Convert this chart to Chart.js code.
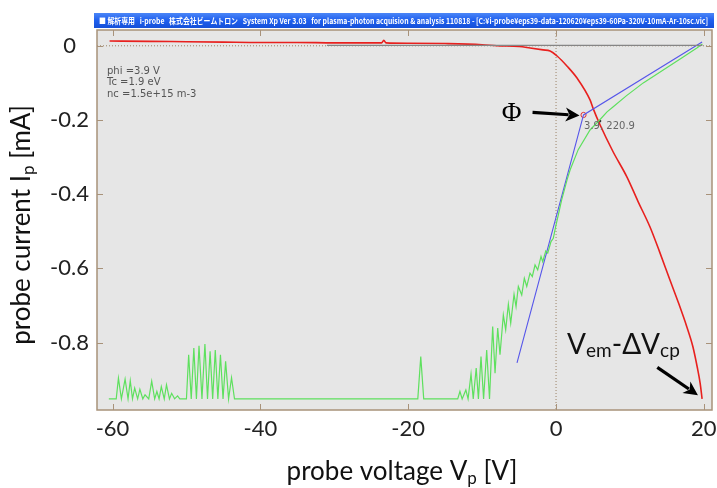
<!DOCTYPE html>
<html>
<head>
<meta charset="utf-8">
<script src="https://cdn.jsdelivr.net/npm/chart.js@4.4.1/dist/chart.umd.min.js"></script>
<style>
  html, body { margin: 0; padding: 0; background: #fff; }
  #wrap { width: 717px; height: 488px; }
</style>
</head>
<body>
<div id="wrap"><canvas id="ivChart" width="717" height="488"></canvas></div>
<script>
// probe voltage [V] / probe current [mA]
const redV = [-60.4, -55, -50, -45, -40, -35, -30, -25, -23.6, -23.3, -23.0, -20, -15, -10, -8, -5, -3.5, -1.75, -0.81, 0.14,
              1.5, 2.84, 4.6, 5.0, 5.95, 7.7, 9.6, 11.1, 12.7, 14.0, 15.4, 16.6, 17.7, 18.5, 19.1, 19.5, 19.76];
const redI = [0.013, 0.012, 0.011, 0.010, 0.009, 0.009, 0.008, 0.008, 0.008, 0.015, 0.008, 0.007, 0.006, 0.003, 0.0, -0.002, -0.006, -0.011, -0.014, -0.0275,
              -0.055, -0.087, -0.146, -0.168, -0.213, -0.285, -0.354, -0.42, -0.488, -0.555, -0.631, -0.695, -0.758, -0.81, -0.866, -0.91, -0.952];

const greenV = [-60.5, -59.5, -59.2, -58.8, -58.3, -57.9, -57.6, -57.3, -57.0, -56.6, -56.3, -55.9, -55.6, -55.1, -54.7, -54.3, -54.0, -53.7,
                -53.4, -53.0, -52.7, -52.3, -52.0, -51.6, -51.2, -50.9, -50.0, -49.7, -49.35, -49.0, -48.65, -48.3, -47.9, -47.5, -47.15,
                -46.8, -46.45, -46.1, -45.75, -45.4, -45.05, -44.7, -44.3, -43.9, -43.5, -18.7, -18.3, -17.9, -13.3, -13.0, -12.7, -12.2,
                -11.9, -11.5, -11.2, -10.8, -10.5, -10.15, -9.8, -9.38, -9.0, -8.57, -8.25, -7.89, -7.58, -7.13, -6.81, -6.45, -6.13,
                -5.68, -5.41, -5.10, -4.64, -4.29, -3.96, -3.52, -3.21, -2.84, -2.48, -2.03, -1.80, -1.39, -1.12, -0.68, -0.37, 0, 0.31,
                0.77, 1.5, 1.9, 3.0, 4.6, 5.9, 6.9, 7.7, 9.5, 11.8, 14.5, 17, 19.1, 19.8];
const greenI = [-0.952, -0.952, -0.896, -0.952, -0.899, -0.952, -0.903, -0.952, -0.923, -0.952, -0.926, -0.952, -0.941, -0.952, -0.904, -0.952, -0.932, -0.952,
                -0.919, -0.952, -0.914, -0.952, -0.937, -0.952, -0.944, -0.952, -0.952, -0.833, -0.952, -0.815, -0.952, -0.809, -0.952, -0.804, -0.952,
                -0.824, -0.952, -0.820, -0.952, -0.833, -0.952, -0.851, -0.952, -0.895, -0.952, -0.952, -0.838, -0.952, -0.952, -0.932, -0.952, -0.928,
                -0.952, -0.885, -0.952, -0.869, -0.952, -0.838, -0.952, -0.820, -0.952, -0.757, -0.883, -0.761, -0.833, -0.726, -0.766, -0.697, -0.748,
                -0.670, -0.703, -0.649, -0.672, -0.627, -0.649, -0.613, -0.622, -0.591, -0.604, -0.568, -0.582, -0.553, -0.559, -0.528, -0.519, -0.483, -0.456,
                -0.415, -0.361, -0.335, -0.28, -0.227, -0.200, -0.178, -0.165, -0.135, -0.100, -0.065, -0.033, -0.005, 0.005];

// fitted lines and the floating-potential point
const fitV = [-5.28, 3.72, 19.76];
const fitI = [-0.855, -0.1865, 0.010];
const zeroV = [-31, 19.8];
const zeroI = [0.001, 0.001];
const phiV = [3.72];
const phiI = [-0.1865];
const dotV = [5.95];
const dotI = [-0.203];

const xTicks = [-60, -40, -20, 0, 20];
const yTicks = [0, -0.2, -0.4, -0.6, -0.8];

const infoLines = ['phi =3.9 V', 'Tc =1.9 eV', 'nc =1.5e+15 m-3'];
const phiLabel = '3.9, 220.9';
const windowTitle = '■ 解析専用   i-probe   株式会社ビームトロン   System Xp Ver 3.03   for plasma-photon acquision & analysis 110818 - [C:¥i-probe¥eps39-data-120620¥eps39-60Pa-320V-10mA-Ar-10sc.vic]';

const pts = (xs, ys) => xs.map((x, i) => ({ x, y: ys[i] }));

const tan = '#a8927a';
const sans = 'Lato, "Noto Sans", sans-serif';

// draw a run of text pieces (for subscripts)
function richText(ctx, parts, x, y, align) {
    let total = 0;
    parts.forEach(p => { ctx.font = p.font; total += ctx.measureText(p.t).width; });
    let cx = align === 'center' ? x - total / 2 : x;
    ctx.textBaseline = 'alphabetic';
    ctx.textAlign = 'left';
    parts.forEach(p => {
        ctx.font = p.font;
        ctx.fillText(p.t, cx, y + (p.dy || 0));
        cx += ctx.measureText(p.t).width;
    });
}

function arrow(ctx, x1, y1, x2, y2) {
    const a = Math.atan2(y2 - y1, x2 - x1);
    const hl = 14, hw = 7;
    const bx = x2 - hl * Math.cos(a), by = y2 - hl * Math.sin(a);
    ctx.strokeStyle = '#000';
    ctx.fillStyle = '#000';
    ctx.lineWidth = 3.2;
    ctx.beginPath();
    ctx.moveTo(x1, y1);
    ctx.lineTo(bx + 3 * Math.cos(a), by + 3 * Math.sin(a));
    ctx.stroke();
    ctx.beginPath();
    ctx.moveTo(x2, y2);
    ctx.lineTo(bx + hw * Math.sin(a), by - hw * Math.cos(a));
    ctx.lineTo(bx + 4 * Math.cos(a), by + 4 * Math.sin(a));
    ctx.lineTo(bx - hw * Math.sin(a), by + hw * Math.cos(a));
    ctx.closePath();
    ctx.fill();
}

const framePlugin = {
    id: 'frame',
    beforeDraw(chart) {
        const { ctx, chartArea: a } = chart;
        ctx.save();
        ctx.fillStyle = '#fff';
        ctx.fillRect(0, 0, chart.width, chart.height);
        ctx.fillStyle = '#e6e6e6';
        ctx.fillRect(a.left, a.top, a.right - a.left, a.bottom - a.top);
        // window title bar
        const g = ctx.createLinearGradient(0, 13, 0, 28);
        g.addColorStop(0, '#4b86f7');
        g.addColorStop(0.5, '#1f5fee');
        g.addColorStop(1, '#1550d8');
        ctx.fillStyle = g;
        ctx.fillRect(a.left - 3, 13, a.right - a.left + 5, 15);
        ctx.fillStyle = '#fff';
        ctx.font = 'bold 8px "Noto Sans CJK JP", sans-serif';
        ctx.textBaseline = 'middle';
        ctx.textAlign = 'left';
        ctx.fillText(windowTitle, a.left + 2, 20.5, a.right - a.left - 6);
        ctx.restore();
    },
    beforeDatasetsDraw(chart) {
        const { ctx, chartArea: a, scales: { x, y } } = chart;
        ctx.save();
        ctx.strokeStyle = '#9a8266';
        ctx.lineWidth = 1;
        ctx.setLineDash([1, 2]);
        ctx.beginPath();
        ctx.moveTo(a.left, y.getPixelForValue(0));
        ctx.lineTo(a.right, y.getPixelForValue(0));
        ctx.moveTo(x.getPixelForValue(0), a.top);
        ctx.lineTo(x.getPixelForValue(0), a.bottom);
        ctx.stroke();
        ctx.restore();
    },
    afterDatasetsDraw(chart) {
        const { ctx, chartArea: a, scales: { x, y } } = chart;
        ctx.save();
        // frame and inner ticks
        ctx.strokeStyle = tan;
        ctx.lineWidth = 1.5;
        ctx.strokeRect(a.left, a.top, a.right - a.left, a.bottom - a.top);
        ctx.lineWidth = 1;
        ctx.beginPath();
        xTicks.forEach(v => {
            const px = Math.round(x.getPixelForValue(v)) + 0.5;
            ctx.moveTo(px, a.bottom); ctx.lineTo(px, a.bottom - 6);
            ctx.moveTo(px, a.top); ctx.lineTo(px, a.top + 6);
        });
        yTicks.forEach(v => {
            const py = Math.round(y.getPixelForValue(v)) + 0.5;
            ctx.moveTo(a.left, py); ctx.lineTo(a.left + 6, py);
            ctx.moveTo(a.right, py); ctx.lineTo(a.right - 6, py);
        });
        ctx.stroke();

        // program annotations
        ctx.fillStyle = '#555';
        ctx.font = '10px "DejaVu Sans", sans-serif';
        ctx.textBaseline = 'middle';
        ctx.textAlign = 'left';
        infoLines.forEach((t, i) => ctx.fillText(t, a.left + 10, 71 + i * 11.6));
        const px = x.getPixelForValue(phiV[0]), py = y.getPixelForValue(phiI[0]);
        ctx.fillStyle = '#666';
        ctx.fillText(phiLabel, px + 0.5, py + 11);

        // slide annotations
        ctx.fillStyle = '#000';
        ctx.font = '27px "Liberation Serif", "DejaVu Serif", serif';
        ctx.textAlign = 'center';
        ctx.textBaseline = 'middle';
        ctx.fillText('Φ', px - 72, py - 1);
        arrow(ctx, px - 51, py - 2.5, px - 4, py + 0.5);

        const vx = x.getPixelForValue(1.5), vy = y.getPixelForValue(-0.83);
        ctx.fillStyle = '#111';
        richText(ctx, [
            { t: 'V', font: '28px ' + sans },
            { t: 'em', font: '19px ' + sans, dy: 3 },
            { t: '-ΔV', font: '28px ' + sans },
            { t: 'cp', font: '19px ' + sans, dy: 3 },
        ], vx, vy, 'left');
        arrow(ctx, x.getPixelForValue(13.7), y.getPixelForValue(-0.867), x.getPixelForValue(19.2), y.getPixelForValue(-0.942));

        // axis titles
        ctx.fillStyle = '#111';
        richText(ctx, [
            { t: 'probe voltage V', font: '26px ' + sans },
            { t: 'p', font: '17px ' + sans, dy: 4 },
            { t: ' [V]', font: '26px ' + sans },
        ], 402, 480, 'center');
        ctx.translate(30, 225);
        ctx.rotate(-Math.PI / 2);
        richText(ctx, [
            { t: 'probe current I', font: '26px ' + sans },
            { t: 'p', font: '17px ' + sans, dy: 4 },
            { t: ' [mA]', font: '26px ' + sans },
        ], 0, 0, 'center');
        ctx.restore();
    },
};

new Chart(document.getElementById('ivChart'), {
    type: 'line',
    data: {
        datasets: [
            { data: pts(zeroV, zeroI), borderColor: '#858585', borderWidth: 1.3, pointRadius: 0 },
            { data: pts(greenV, greenI), borderColor: '#5ee05e', borderWidth: 1.2, pointRadius: 0 },
            { data: pts(fitV, fitI), borderColor: '#5656ea', borderWidth: 1.1, pointRadius: 0 },
            { data: pts(redV, redI), borderColor: '#e8201e', borderWidth: 1.6, pointRadius: 0, cubicInterpolationMode: 'monotone' },
            { data: pts(phiV, phiI), showLine: false, pointRadius: 2.6, pointBorderWidth: 1, pointBorderColor: '#e03030', pointBackgroundColor: 'rgba(0,0,0,0)' },
            { data: pts(dotV, dotI), showLine: false, pointRadius: 1.3, pointBorderWidth: 0, pointBackgroundColor: '#333' },
        ],
    },
    options: {
        responsive: false,
        animation: false,
        devicePixelRatio: 1,
        layout: { padding: { top: 30, right: 4, left: 0, bottom: 0 } },
        elements: { line: { tension: 0 } },
        plugins: { legend: { display: false }, tooltip: { enabled: false } },
        scales: {
            x: {
                type: 'linear',
                min: -62.1,
                max: 21.1,
                afterFit: s => { s.height = 78; s.paddingLeft = 0; s.paddingRight = 0; },
                afterBuildTicks: s => { s.ticks = xTicks.map(value => ({ value })); },
                grid: { display: false, drawTicks: false },
                border: { display: false },
                ticks: { color: '#222', padding: 6, font: { family: sans, size: 22 } },
            },
            y: {
                type: 'linear',
                min: -0.982,
                max: 0.0426,
                afterFit: s => { s.width = 97; s.paddingTop = 0; s.paddingBottom = 0; },
                afterBuildTicks: s => { s.ticks = yTicks.map(value => ({ value })); },
                grid: { display: false, drawTicks: false },
                border: { display: false },
                ticks: {
                    color: '#222', padding: 8, crossAlign: 'center', font: { family: sans, size: 22 },
                    callback: v => String(Math.round(v * 10) / 10),
                },
            },
        },
    },
    plugins: [framePlugin],
});
</script>
</body>
</html>
